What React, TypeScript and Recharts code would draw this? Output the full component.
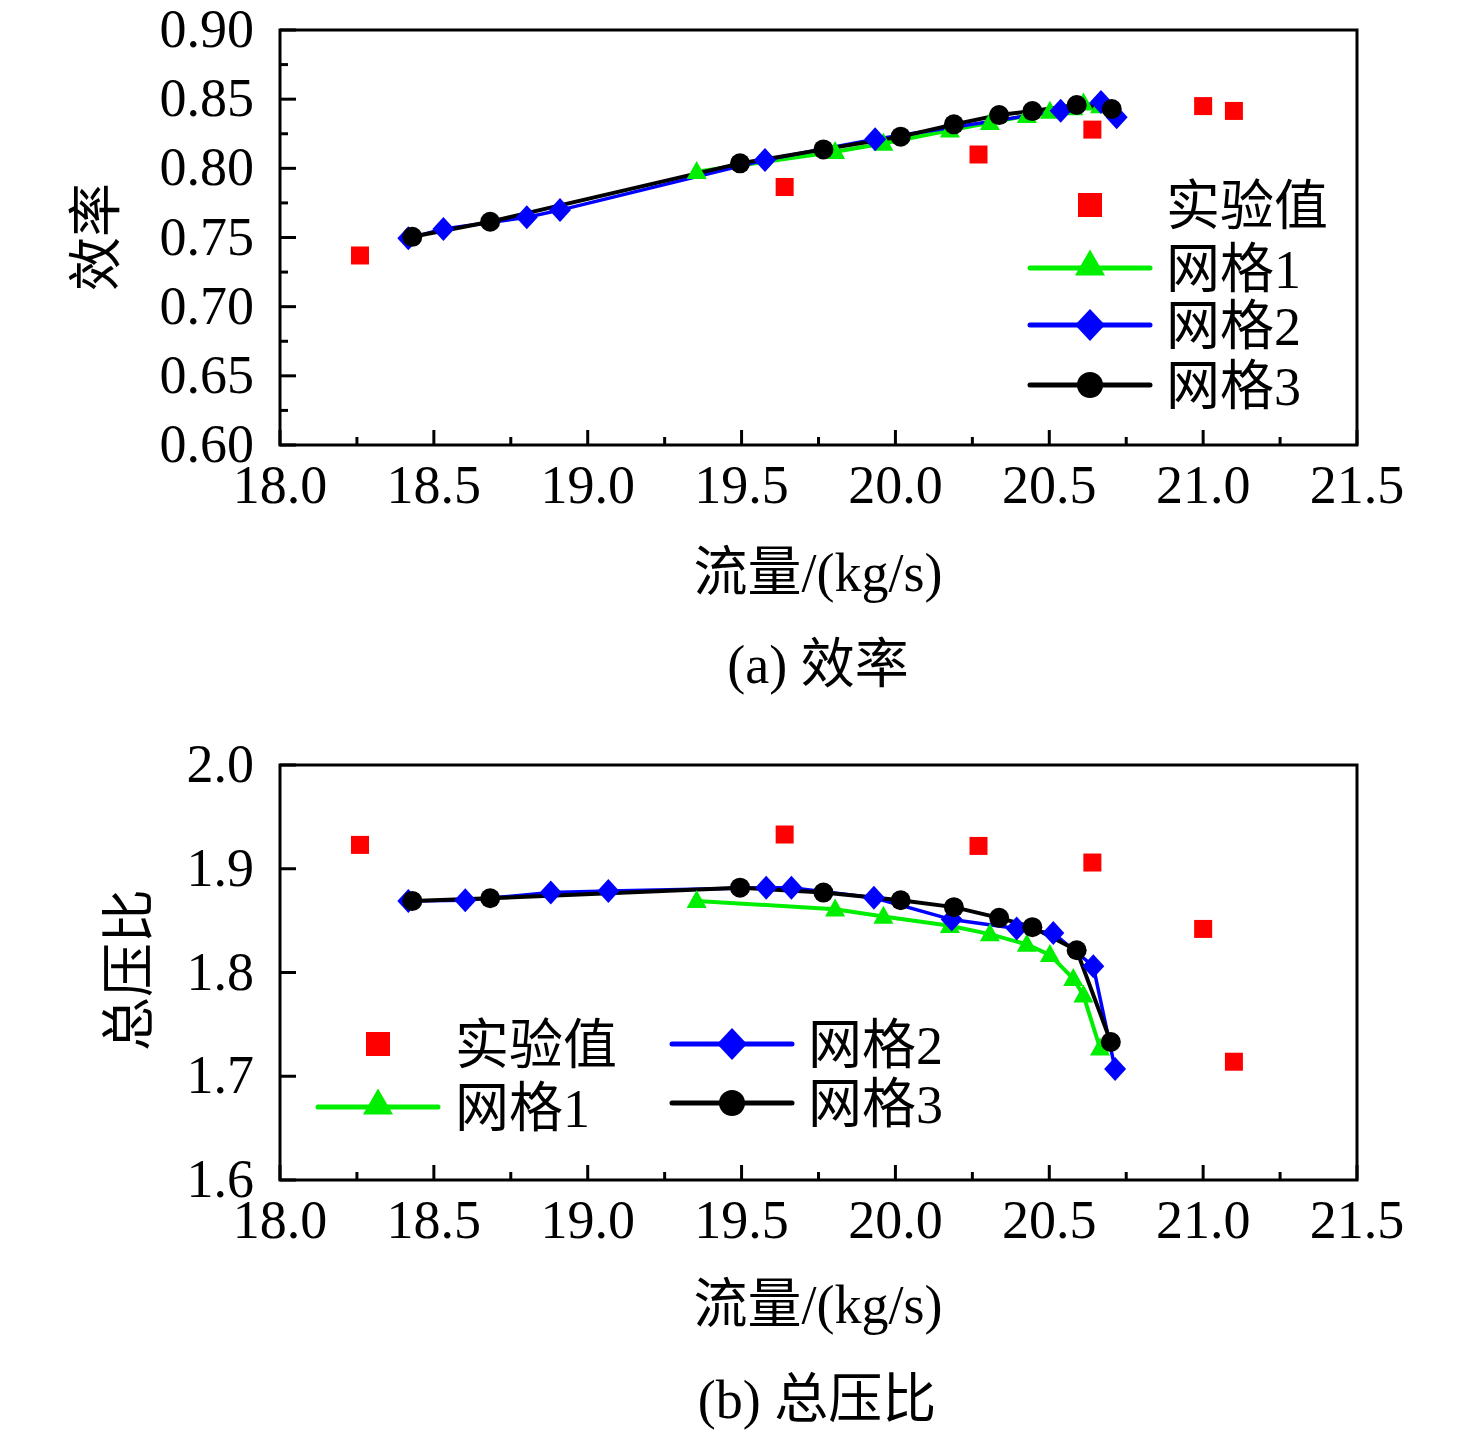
import React from "react";
import {
  ComposedChart,
  Line,
  Scatter,
  XAxis,
  YAxis,
  ReferenceArea,
} from "recharts";

// ---------- data ----------
const expFlow = [18.26, 19.64, 20.27, 20.64, 21.0, 21.1];
const expEff = [0.737, 0.7865, 0.81, 0.828, 0.845, 0.8415];
const expPr = [1.923, 1.933, 1.922, 1.906, 1.842, 1.714];

const g1FlowA = [19.354, 19.804, 19.961, 20.177, 20.307, 20.427, 20.502, 20.578, 20.611, 20.665];
const g1Eff = [0.7975, 0.812, 0.818, 0.8275, 0.833, 0.838, 0.841, 0.8435, 0.847, 0.845];

const g2FlowA = [18.417, 18.531, 18.802, 18.91, 19.576, 19.934, 20.537, 20.668, 20.719];
const g2Eff = [0.7494, 0.7561, 0.7646, 0.7698, 0.806, 0.821, 0.8417, 0.848, 0.8369];

const g3FlowA = [18.43, 18.683, 19.495, 19.766, 20.017, 20.19, 20.337, 20.445, 20.589, 20.703];
const g3Eff = [0.7505, 0.7614, 0.8036, 0.8137, 0.8229, 0.8318, 0.8385, 0.8414, 0.8458, 0.8429];

const g1FlowB = [19.354, 19.804, 19.961, 20.177, 20.307, 20.427, 20.502, 20.578, 20.611, 20.665];
const g1Pr = [1.869, 1.861, 1.854, 1.845, 1.837, 1.827, 1.817, 1.794, 1.778, 1.727];

const g2FlowB = [18.417, 18.602, 18.88, 19.067, 19.58, 19.662, 19.93, 20.183, 20.394, 20.513, 20.643, 20.714];
const g2Pr = [1.869, 1.8696, 1.877, 1.8786, 1.8818, 1.8818, 1.872, 1.851, 1.8424, 1.838, 1.806, 1.707];

const g3FlowB = [18.43, 18.683, 19.495, 19.766, 20.017, 20.19, 20.337, 20.445, 20.589, 20.7];
const g3Pr = [1.869, 1.8716, 1.8818, 1.877, 1.8696, 1.863, 1.8527, 1.8437, 1.8214, 1.733];

const xTicks = [18, 18.25, 18.5, 18.75, 19, 19.25, 19.5, 19.75, 20, 20.25, 20.5, 20.75, 21, 21.25, 21.5];
const effTicks = [0.6, 0.625, 0.65, 0.675, 0.7, 0.725, 0.75, 0.775, 0.8, 0.825, 0.85, 0.875, 0.9];
const prTicks = [1.6, 1.7, 1.8, 1.9, 2.0];

const seriesNames = ["实验值", "网格1", "网格2", "网格3"];
const xLabel = "流量/(kg/s)";
const captionA = "(a) 效率";
const captionB = "(b) 总压比";
const yLabelA = "效率";
const yLabelB = "总压比";

const zip = (xs: number[], ys: number[]) => xs.map((x, i) => ({ x, y: ys[i] }));

// ---------- style ----------
const FONT = "'Liberation Serif', 'Times New Roman', 'Noto Sans CJK SC', serif";
const FS = 54;
const RED = "#ff0000";
const GREEN = "#00ee00";
const BLUE = "#0000ff";
const BLACK = "#000000";

// ---------- markers ----------
const Square = ({ cx, cy, s = 18 }: any) => (
  <rect x={cx - s / 2} y={cy - s / 2} width={s} height={s} fill={RED} />
);
const Triangle = ({ cx, cy, w = 20, h = 18 }: any) => (
  <polygon
    points={`${cx},${cy - h * 0.6} ${cx - w / 2},${cy + h * 0.4} ${cx + w / 2},${cy + h * 0.4}`}
    fill={GREEN}
  />
);
const Diamond = ({ cx, cy, w = 11, h = 12 }: any) => (
  <polygon points={`${cx},${cy - h} ${cx + w},${cy} ${cx},${cy + h} ${cx - w},${cy}`} fill={BLUE} />
);
const Circle = ({ cx, cy, r = 10 }: any) => <circle cx={cx} cy={cy} r={r} fill={BLACK} />;

const mkDot = (Comp: any) => (props: any) => {
  const { cx, cy, index } = props;
  if (cx == null || cy == null) return <g key={`d-${index}`} />;
  return <Comp key={`d-${index}`} cx={cx} cy={cy} />;
};

// ---------- ticks ----------
const XTick = (props: any) => {
  const { x, y, payload } = props;
  const v = payload.value as number;
  const major = Math.abs(v * 2 - Math.round(v * 2)) < 1e-6;
  return (
    <g>
      <line x1={x} x2={x} y1={y} y2={y - (major ? 15 : 8)} stroke={BLACK} strokeWidth={3} />
      {major && (
        <text x={x} y={y + 58} textAnchor="middle" fontSize={FS} fontFamily={FONT} fill={BLACK}>
          {v.toFixed(1)}
        </text>
      )}
    </g>
  );
};

const makeYTick = (majorStep: number, digits: number, dy: number) => (props: any) => {
  const { x, y, payload } = props;
  const v = payload.value as number;
  const r = v / majorStep;
  const major = Math.abs(r - Math.round(r)) < 1e-6;
  return (
    <g>
      <line x1={x} x2={x + (major ? 16 : 8)} y1={y} y2={y} stroke={BLACK} strokeWidth={3} />
      {major && (
        <text x={x - 26} y={y + dy} textAnchor="end" fontSize={FS} fontFamily={FONT} fill={BLACK}>
          {v.toFixed(digits)}
        </text>
      )}
    </g>
  );
};
const YTickA = makeYTick(0.05, 2, 17);
const YTickB = makeYTick(0.1, 1, 17);

// ---------- panel ----------
const Panel = ({
  top,
  marginTop,
  yDomain,
  yTicks,
  YTick,
  exp,
  g1,
  g2,
  g3,
}: any) => (
  <div style={{ position: "absolute", left: 0, top, width: 1476 }}>
    <ComposedChart
      width={1476}
      height={marginTop + 415 + 85}
      margin={{ top: marginTop, right: 119, bottom: 0, left: 0 }}
    >
      <XAxis
        type="number"
        dataKey="x"
        domain={[18, 21.5]}
        ticks={xTicks}
        allowDataOverflow
        height={85}
        axisLine={false}
        tickLine={false}
        tickSize={0}
        tickMargin={0}
        tick={<XTick />}
        interval={0}
      />
      <YAxis
        type="number"
        dataKey="y"
        domain={yDomain}
        ticks={yTicks}
        allowDataOverflow
        width={280}
        axisLine={false}
        tickLine={false}
        tickSize={0}
        tickMargin={0}
        tick={<YTick />}
        interval={0}
      />
      <ReferenceArea
        x1={18}
        x2={21.5}
        y1={yDomain[0]}
        y2={yDomain[1]}
        fill="none"
        fillOpacity={0}
        stroke={BLACK}
        strokeWidth={3}
        ifOverflow="visible"
      />
      <Scatter
        name={seriesNames[0]}
        data={exp}
        isAnimationActive={false}
        shape={(p: any) => <Square cx={p.cx} cy={p.cy} />}
      />
      <Line
        name={seriesNames[1]}
        data={g1}
        dataKey="y"
        type="linear"
        stroke={GREEN}
        strokeWidth={4}
        dot={mkDot(Triangle)}
        activeDot={false}
        isAnimationActive={false}
      />
      <Line
        name={seriesNames[2]}
        data={g2}
        dataKey="y"
        type="linear"
        stroke={BLUE}
        strokeWidth={3.5}
        dot={mkDot(Diamond)}
        activeDot={false}
        isAnimationActive={false}
      />
      <Line
        name={seriesNames[3]}
        data={g3}
        dataKey="y"
        type="linear"
        stroke={BLACK}
        strokeWidth={4}
        dot={mkDot(Circle)}
        activeDot={false}
        isAnimationActive={false}
      />
    </ComposedChart>
  </div>
);

// ---------- legend ----------
const LegendItem = ({ kind, lx, ly, tx, label }: any) => {
  const lineColor = kind === "g1" ? GREEN : kind === "g2" ? BLUE : BLACK;
  return (
    <g>
      {kind !== "exp" && (
        <line x1={lx - 60} x2={lx + 60} y1={ly} y2={ly} stroke={lineColor} strokeWidth={5} strokeLinecap="round" />
      )}
      {kind === "exp" && <Square cx={lx} cy={ly} s={24} />}
      {kind === "g1" && <Triangle cx={lx} cy={ly - 3} w={30} h={26} />}
      {kind === "g2" && <Diamond cx={lx} cy={ly} w={15} h={16} />}
      {kind === "g3" && <Circle cx={lx} cy={ly} r={13} />}
      <text x={tx} y={ly + 20} fontSize={FS} fontFamily={FONT} fill={BLACK}>
        {label}
      </text>
    </g>
  );
};

const centered = (x: number, y: number, extra: any = {}) => ({
  position: "absolute" as const,
  left: x,
  top: y,
  transform: "translate(-50%, -50%)",
  fontFamily: FONT,
  fontSize: FS,
  lineHeight: `${FS}px`,
  whiteSpace: "nowrap" as const,
  color: BLACK,
  ...extra,
});

export default function App() {
  return (
    <div style={{ position: "absolute", left: 0, top: 0, width: 1476, height: 1436, background: "#fff", overflow: "hidden" }}>
      <Panel
        top={0}
        marginTop={30}
        yDomain={[0.6, 0.9]}
        yTicks={effTicks}
        YTick={YTickA}
        exp={zip(expFlow, expEff)}
        g1={zip(g1FlowA, g1Eff)}
        g2={zip(g2FlowA, g2Eff)}
        g3={zip(g3FlowA, g3Eff)}
      />
      <Panel
        top={700}
        marginTop={65}
        yDomain={[1.6, 2.0]}
        yTicks={prTicks}
        YTick={YTickB}
        exp={zip(expFlow, expPr)}
        g1={zip(g1FlowB, g1Pr)}
        g2={zip(g2FlowB, g2Pr)}
        g3={zip(g3FlowB, g3Pr)}
      />

      <svg style={{ position: "absolute", left: 0, top: 0, pointerEvents: "none" }} width={1476} height={1436}>
        <LegendItem kind="exp" lx={1090} ly={205} tx={1166} label={seriesNames[0]} />
        <LegendItem kind="g1" lx={1090} ly={268} tx={1166} label={seriesNames[1]} />
        <LegendItem kind="g2" lx={1090} ly={325} tx={1166} label={seriesNames[2]} />
        <LegendItem kind="g3" lx={1090} ly={385} tx={1166} label={seriesNames[3]} />

        <LegendItem kind="exp" lx={378} ly={1044} tx={455} label={seriesNames[0]} />
        <LegendItem kind="g1" lx={378} ly={1107} tx={455} label={seriesNames[1]} />
        <LegendItem kind="g2" lx={732} ly={1044} tx={808} label={seriesNames[2]} />
        <LegendItem kind="g3" lx={732} ly={1103} tx={808} label={seriesNames[3]} />
      </svg>

      <div style={centered(97, 237, { transform: "translate(-50%, -50%) rotate(-90deg)" })}>{yLabelA}</div>
      <div style={centered(818, 573)}>{xLabel}</div>
      <div style={centered(818, 665)}>{captionA}</div>

      <div style={centered(130, 970, { transform: "translate(-50%, -50%) rotate(-90deg)" })}>{yLabelB}</div>
      <div style={centered(818, 1305)}>{xLabel}</div>
      <div style={centered(817, 1400)}>{captionB}</div>
    </div>
  );
}
